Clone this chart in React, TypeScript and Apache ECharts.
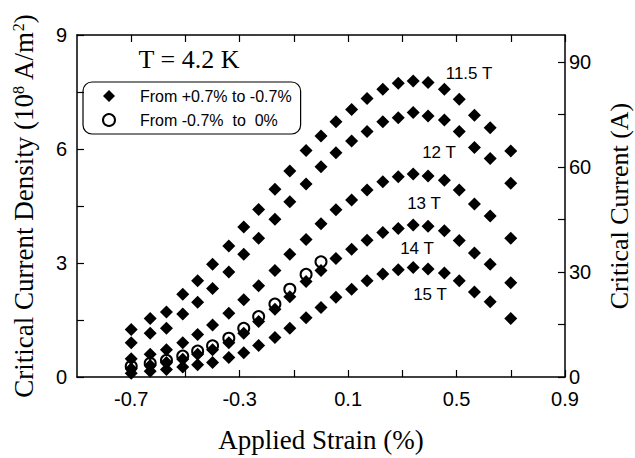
import React, { useEffect, useRef } from 'react';
import * as echarts from 'echarts';

// Applied strain (%) of the measured points
const strainSweep = [-0.70, -0.63, -0.57, -0.51, -0.455, -0.40, -0.34, -0.285, -0.23, -0.17, -0.115, -0.055, 0.0,
  0.055, 0.113, 0.17, 0.228, 0.285, 0.34, 0.395, 0.455, 0.51, 0.566, 0.624, 0.70];
const strainReturn = [-0.70, -0.63, -0.57, -0.51, -0.455, -0.40, -0.34, -0.285, -0.23, -0.17, -0.115, -0.055, 0.0];

// Critical current density (10^8 A/m^2), from +0.7% to -0.7%
const jc115T = [1.25, 1.54, 1.71, 2.18, 2.53, 2.97, 3.45, 3.95, 4.41, 4.94, 5.42, 5.96, 6.34,
  6.72, 7.04, 7.33, 7.57, 7.73, 7.79, 7.75, 7.57, 7.31, 6.89, 6.56, 5.95];
const jc12T = [0.90, 1.15, 1.28, 1.66, 1.97, 2.33, 2.76, 3.23, 3.65, 4.15, 4.61, 5.08, 5.53,
  5.90, 6.21, 6.46, 6.72, 6.82, 6.96, 6.87, 6.76, 6.46, 6.04, 5.75, 5.10];
const jc13T = [0.48, 0.60, 0.72, 0.90, 1.12, 1.37, 1.68, 2.03, 2.40, 2.80, 3.23, 3.62, 4.03,
  4.40, 4.66, 4.92, 5.14, 5.27, 5.34, 5.29, 5.18, 4.92, 4.55, 4.24, 3.65];
const jc14T = [0.22, 0.30, 0.38, 0.47, 0.60, 0.72, 0.90, 1.15, 1.46, 1.78, 2.11, 2.51, 2.80,
  3.12, 3.36, 3.60, 3.80, 3.91, 4.00, 3.97, 3.85, 3.59, 3.26, 2.97, 2.48];
const jc15T = [0.10, 0.15, 0.20, 0.26, 0.32, 0.38, 0.51, 0.64, 0.83, 1.04, 1.28, 1.56, 1.83,
  2.10, 2.31, 2.53, 2.71, 2.82, 2.88, 2.84, 2.74, 2.53, 2.24, 1.98, 1.54];
// From -0.7% to 0%
const jcReturn = [0.28, 0.36, 0.44, 0.55, 0.68, 0.82, 1.02, 1.28, 1.59, 1.92, 2.31, 2.70, 3.03];

const fieldLabels = ['11.5 T', '12 T', '13 T', '14 T', '15 T'];
const sweepName = 'From +0.7% to -0.7%';
const returnName = 'From -0.7%  to  0%';

const xTickValues = [-0.7, -0.5, -0.3, -0.1, 0.1, 0.3, 0.5, 0.7, 0.9];
const xLabelValues = [-0.7, -0.3, 0.1, 0.5, 0.9];
const jcTickValues = [0, 1.5, 3, 4.5, 6, 7.5, 9];
const jcLabelValues = [0, 3, 6, 9];
const icTickValues = [0, 15, 30, 45, 60, 75, 90];
const icLabelValues = [0, 30, 60, 90];

export default function App() {
  const ref = useRef<HTMLDivElement>(null);
  useEffect(() => {
    const chart = echarts.init(ref.current!, null, { renderer: 'svg' });
    const sans = '"Liberation Sans", Arial, Helvetica, sans-serif';
    const serif = '"Liberation Serif", "Times New Roman", Times, serif';
    const pairs = (xs: number[], ys: number[]) => ys.map((y, i) => [xs[i], y]);
    const lineStyle = { color: '#000', width: 1.5 };
    const tickStyle = { color: '#000', width: 1.2 };

    const sweepSets = [jc115T, jc12T, jc13T, jc14T, jc15T];
    const labelPos = [[469, 73], [439, 152], [424, 203], [417, 248], [430, 294]];

    chart.setOption({
      animation: false,
      backgroundColor: '#fff',
      grid: { left: 77, right: 70, top: 35, bottom: 81, containLabel: false, outerBoundsMode: 'none' },
      legend: {
        orient: 'vertical',
        left: 83,
        top: 82,
        padding: [6, 9, 6, 19],
        itemWidth: 12,
        itemHeight: 12,
        itemGap: 8,
        borderColor: '#000',
        borderWidth: 1.2,
        borderRadius: 9,
        data: [{ name: sweepName }, { name: returnName }],
        textStyle: { fontFamily: sans, fontSize: 16, color: '#000', padding: [0, 0, 0, 20] },
        selectedMode: false,
      },
      xAxis: [
        {
          type: 'value', position: 'bottom', min: -0.9, max: 0.9,
          axisLine: { show: true, onZero: false, lineStyle },
          axisTick: { show: true, inside: true, length: 7, customValues: xTickValues, lineStyle: tickStyle },
          axisLabel: {
            customValues: xLabelValues, margin: 12, color: '#000', fontFamily: sans, fontSize: 20,
            formatter: (v: number) => v.toFixed(1),
          },
          splitLine: { show: false },
          name: 'Applied Strain (%)', nameLocation: 'middle', nameGap: 49,
          nameTextStyle: { fontFamily: serif, fontSize: 27, color: '#000' },
        },
        {
          type: 'value', position: 'top', min: -0.9, max: 0.9,
          axisLine: { show: true, onZero: false, lineStyle },
          axisTick: { show: true, inside: true, length: 7, customValues: xTickValues, lineStyle: tickStyle },
          axisLabel: { show: false },
          splitLine: { show: false },
        },
      ],
      yAxis: [
        {
          type: 'value', position: 'left', min: 0, max: 9,
          axisLine: { show: true, onZero: false, lineStyle },
          axisTick: { show: true, inside: true, length: 7, customValues: jcTickValues, lineStyle: tickStyle },
          axisLabel: { customValues: jcLabelValues, margin: 10, color: '#000', fontFamily: sans, fontSize: 20 },
          splitLine: { show: false },
          name: '{a|Critical Current Density (10}{s|8}{a| A/m}{s|2}{a|)}',
          nameLocation: 'middle', nameGap: 40, nameRotate: 90,
          nameTextStyle: {
            rich: {
              a: { fontFamily: serif, fontSize: 27, color: '#000' },
              s: { fontFamily: serif, fontSize: 16, color: '#000', verticalAlign: 'top' },
            },
          },
        },
        {
          type: 'value', position: 'right', min: 0, max: 97.8,
          axisLine: { show: true, onZero: false, lineStyle },
          axisTick: { show: true, inside: true, length: 7, customValues: icTickValues, lineStyle: tickStyle },
          axisLabel: { customValues: icLabelValues, margin: 4, color: '#000', fontFamily: sans, fontSize: 20 },
          splitLine: { show: false },
          name: 'Critical Current (A)', nameLocation: 'middle', nameGap: 41, nameRotate: 90,
          nameTextStyle: { fontFamily: serif, fontSize: 26, color: '#000' },
        },
      ],
      series: [
        {
          type: 'scatter', name: returnName, xAxisIndex: 0, yAxisIndex: 0,
          symbol: 'circle', symbolSize: 11,
          itemStyle: { color: '#fff', borderColor: '#000', borderWidth: 2, opacity: 1 },
          data: pairs(strainReturn, jcReturn), z: 2, silent: true,
        },
        ...sweepSets.map((ys, i) => ({
          type: 'scatter', name: sweepName, id: 'sweep' + i, xAxisIndex: 0, yAxisIndex: 0,
          symbol: 'diamond', symbolSize: 13,
          itemStyle: { color: '#000', opacity: 1 },
          data: pairs(strainSweep, ys), z: 3, silent: true,
        })),
      ],
      graphic: [
        {
          type: 'text', x: 189, y: 59,
          style: { text: 'T = 4.2 K', fontFamily: serif, fontSize: 26, fill: '#000', align: 'center', verticalAlign: 'middle' },
        },
        ...fieldLabels.map((t, i) => ({
          type: 'text', x: labelPos[i][0], y: labelPos[i][1],
          style: { text: t, fontFamily: sans, fontSize: 17, fill: '#000', align: 'center', verticalAlign: 'middle' },
        })),
      ],
    });
    return () => chart.dispose();
  }, []);
  return <div ref={ref} style={{ position: 'fixed', left: 0, top: 0, width: 635, height: 458 }} />;
}
